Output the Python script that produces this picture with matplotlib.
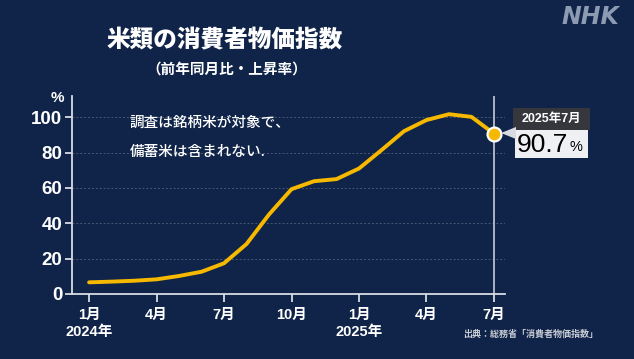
import matplotlib
matplotlib.use("Agg")
import matplotlib.pyplot as plt
from matplotlib.patches import Rectangle, Polygon

months = ["1月", "2月", "3月", "4月", "5月", "6月", "7月", "8月", "9月", "10月",
          "11月", "12月", "1月", "2月", "3月", "4月", "5月", "6月", "7月"]
values = [6.6, 7.0, 7.5, 8.3, 10.2, 12.6, 17.4, 28.3, 45.0, 59.3,
          63.8, 65.0, 71.0, 81.4, 92.1, 98.4, 101.7, 100.2, 90.7]
tick_idx = [0, 3, 6, 9, 12, 15, 18]
year_labels = {0: "2024年", 12: "2025年"}
yticks = [0, 20, 40, 60, 80, 100]

BG = "#0f2448"
YEL = "#f7b900"
FAM = ["Liberation Sans", "Noto Sans CJK JP", "DejaVu Sans"]
JP = ["Noto Sans CJK JP", "DejaVu Sans"]

W, H = 634, 359
fig = plt.figure(figsize=(W / 100, H / 100), dpi=100, facecolor=BG)

def fx(px):
    return px / W

def fy(py):
    return 1 - py / H

ax = fig.add_axes([fx(72), fy(294), fx(505) - fx(72), fy(96) - fy(294)])
ax.set_facecolor(BG)
ax.set_xlim(-0.76, 18.49)
ax.set_ylim(0, 112)

for y in yticks[1:]:
    ax.axhline(y, color="#4a5874", lw=0.7, ls=(0, (2, 2)), zorder=1)

x = list(range(len(values)))
ax.axvline(18, color="#b8bfcc", lw=1.3, zorder=2)
ax.plot(x, values, color=YEL, lw=2.8, solid_capstyle="round", solid_joinstyle="round", zorder=3)
ax.plot([18], [values[-1]], "o", ms=10, mfc=YEL, mec="white", mew=1.6, zorder=4)

for s in ["top", "right"]:
    ax.spines[s].set_visible(False)
for s in ["left", "bottom"]:
    ax.spines[s].set_color("#d8dce4")
    ax.spines[s].set_linewidth(1.3)

ax.set_yticks(yticks)
ax.set_yticklabels([str(v) for v in yticks], fontfamily=FAM, fontweight="bold",
                   fontsize=13.5, color="white")
ax.set_xticks(tick_idx)
ax.set_xticklabels([months[i] for i in tick_idx], fontfamily=FAM, fontweight="bold",
                   fontsize=10.5, color="white")
ax.tick_params(axis="y", length=5, width=1.3, color="#d8dce4", pad=2)
ax.tick_params(axis="x", length=6, width=1.3, color="#d8dce4", pad=4)

for i, lab in year_labels.items():
    ax.text(i, -0.19, lab, transform=ax.get_xaxis_transform(), ha="center", va="center",
            fontfamily=FAM, fontweight="bold", fontsize=10.5, color="white")

# Titles
fig.text(fx(225), fy(40), "米類の消費者物価指数", ha="center", va="center",
         fontfamily=JP, fontweight="black", fontsize=17, color="white")
fig.text(fx(227), fy(69), "（前年同月比・上昇率）", ha="center", va="center",
         fontfamily=JP, fontweight="bold", fontsize=10.5, color="white")
fig.text(fx(57), fy(98), "%", ha="center", va="center",
         fontfamily=FAM, fontweight="bold", fontsize=11, color="white")

# Note
fig.text(fx(130), fy(123), "調査は銘柄米が対象で、", ha="left", va="center",
         fontfamily=JP, fontweight="medium", fontsize=10.5, color="white")
fig.text(fx(130), fy(152), "備蓄米は含まれない.", ha="left", va="center",
         fontfamily=JP, fontweight="medium", fontsize=10.5, color="white")

# NHK logo
fig.text(fx(590), fy(17), "NHK", ha="center", va="center", fontfamily=["DejaVu Sans"],
         fontweight="bold", fontstyle="italic", fontsize=17, color="#8c9ab2")

# Source
fig.text(fx(598), fy(334), "出典：総務省「消費者物価指数」", ha="right", va="center",
         fontfamily=JP, fontweight="bold", fontsize=6.5, color="#c8ccd4")

# Callout
fig.patches.append(Rectangle((fx(513), fy(130)), fx(590) - fx(513), fy(108) - fy(130),
                             transform=fig.transFigure, facecolor="#35373c", edgecolor="none"))
fig.patches.append(Rectangle((fx(515), fy(158)), fx(588) - fx(515), fy(130) - fy(158),
                             transform=fig.transFigure, facecolor="#eef0f3", edgecolor="none"))
fig.patches.append(Polygon([(fx(501), fy(133)), (fx(516), fy(127)), (fx(516), fy(139))],
                           closed=True, transform=fig.transFigure, facecolor="#d8dce2",
                           edgecolor="none"))
fig.text(fx(551), fy(118.5), "2025年7月", ha="center", va="center",
         fontfamily=FAM, fontweight="bold", fontsize=9, color="white")
fig.text(fx(568), fy(145), "90.7", ha="right", va="center",
         fontfamily=FAM, fontweight="medium", fontsize=19, color="black")
fig.text(fx(570), fy(147), "%", ha="left", va="center",
         fontfamily=FAM, fontsize=10.5, color="black")

fig.savefig("out.png", dpi=100, facecolor=BG)
